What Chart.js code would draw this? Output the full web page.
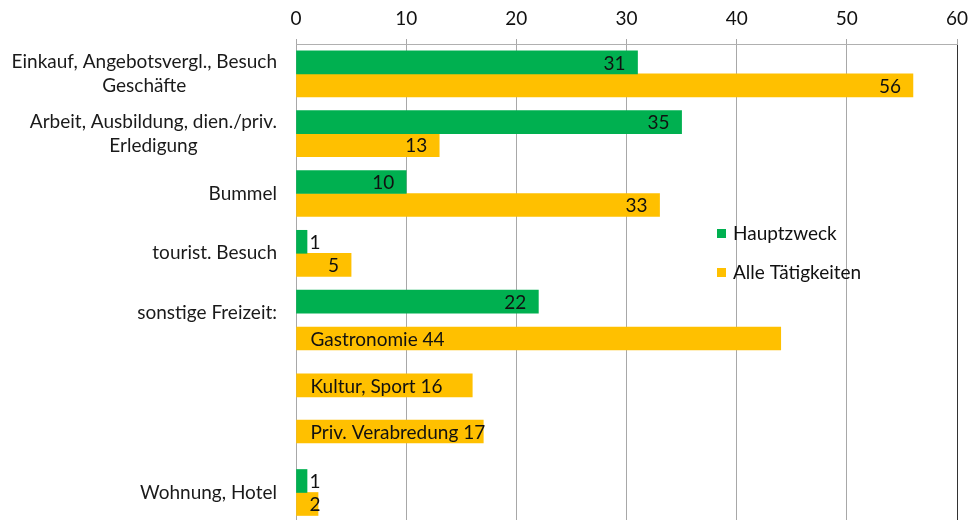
<!DOCTYPE html>
<html>
<head>
<meta charset="utf-8">
<script src="https://cdn.jsdelivr.net/npm/chart.js@4/dist/chart.umd.min.js"></script>
<style>
  html, body { margin: 0; padding: 0; background: #ffffff; }
  #c { display: block; }
</style>
</head>
<body>
<canvas id="c" width="968" height="520"></canvas>
<script>
// ---------- DATA ----------
const categories = [
  ["Einkauf, Angebotsvergl., Besuch", "Geschäfte"],
  ["Arbeit, Ausbildung, dien./priv.", "Erledigung"],
  ["Bummel"],
  ["tourist. Besuch"],
  ["sonstige Freizeit:"],
  [],
  [],
  ["Wohnung, Hotel"]
];
const seriesNames = ["Hauptzweck", "Alle Tätigkeiten"];
const hauptzweck       = [31, 35, 10, 1, 22, null, null, 1];
const alleTaetigkeiten = [56, 13, 33, 5, null, null, null, 2];
const freizeitLabels = ["Gastronomie", "Kultur, Sport", "Priv. Verabredung"];
const freizeitValues = [44, 16, 17];
const xTicks = [0, 10, 20, 30, 40, 50, 60];

// ---------- LAYOUT / STYLE ----------
const GREEN = '#00B050';
const ORANGE = '#FFC000';
const FONT = 'Lato';
const FS = 19;
const ROW_MIN = -0.5, ROW_MAX = 7.46;
const FREIZEIT_ROWS = [4.425, 5.21, 5.98];   // sub-rows under "sonstige Freizeit:"

Chart.defaults.font.family = FONT;
Chart.defaults.font.size = FS;
Chart.defaults.color = '#111111';

const toPoints = (vals) => vals
  .map((v, i) => (v == null ? null : { x: v, y: i }))
  .filter(p => p !== null);

// category labels: block right-aligned, lines centred (as in the original)
const yLabelPlugin = {
  id: 'yLabels',
  afterDraw(chart) {
    const ctx = chart.ctx, ys = chart.scales.y;
    ctx.save();
    ctx.font = FS + 'px ' + FONT;
    ctx.fillStyle = '#1a1a1a';
    ctx.textAlign = 'center';
    ctx.textBaseline = 'middle';
    const right = chart.chartArea.left - 19;
    const lh = 24;
    categories.forEach((lines, i) => {
      if (!lines.length) return;
      const w = Math.max(...lines.map(l => ctx.measureText(l).width));
      const cx = right - w / 2;
      const cy = ys.getPixelForValue(i);
      lines.forEach((l, k) => ctx.fillText(l, cx, cy + (k - (lines.length - 1) / 2) * lh));
    });
    ctx.restore();
  }
};

// value labels on the bars
const valueLabelPlugin = {
  id: 'valueLabels',
  afterDatasetsDraw(chart) {
    const ctx = chart.ctx;
    ctx.save();
    ctx.font = FS + 'px ' + FONT;
    ctx.fillStyle = '#111111';
    ctx.textAlign = 'left';
    ctx.textBaseline = 'middle';
    [0, 1].forEach(di => {
      const meta = chart.getDatasetMeta(di);
      meta.data.forEach((el, i) => {
        const t = String(chart.data.datasets[di].data[i].x);
        const w = ctx.measureText(t).width;
        const x = Math.max(el.x - 12 - w, el.base + 13);
        ctx.fillText(t, x, el.y + 1);
      });
    });
    const meta2 = chart.getDatasetMeta(2);
    meta2.data.forEach((el, i) => {
      ctx.fillText(freizeitLabels[i] + ' ' + freizeitValues[i], el.base + 14, el.y + 1);
    });
    ctx.restore();
  }
};

// legend inside the plot area
const innerLegendPlugin = {
  id: 'innerLegend',
  afterDraw(chart) {
    const ctx = chart.ctx, a = chart.chartArea;
    ctx.save();
    ctx.font = FS + 'px ' + FONT;
    ctx.textAlign = 'left';
    ctx.textBaseline = 'middle';
    const x0 = a.left + 421, y0 = a.top + 190, gap = 39;
    [0, 1].forEach(k => {
      const ds = chart.data.datasets[k];
      const cy = y0 + k * gap;
      ctx.fillStyle = ds.backgroundColor;
      ctx.fillRect(x0, cy - 5, 9, 9);
      ctx.fillStyle = '#111111';
      ctx.fillText(ds.label, x0 + 16, cy);
    });
    ctx.restore();
  }
};

new Chart(document.getElementById('c'), {
  type: 'bar',
  data: {
    datasets: [
      { label: seriesNames[0], data: toPoints(hauptzweck), backgroundColor: GREEN,
        barThickness: 23 },
      { label: seriesNames[1], data: toPoints(alleTaetigkeiten), backgroundColor: ORANGE,
        barThickness: 23 },
      { label: 'Freizeit', data: freizeitValues.map((v, i) => ({ x: v, y: FREIZEIT_ROWS[i] })),
        backgroundColor: ORANGE, grouped: false, barThickness: 23, maxBarThickness: 23 }
    ]
  },
  options: {
    indexAxis: 'y',
    responsive: false,
    animation: false,
    devicePixelRatio: 1,
    layout: { padding: { left: 0, right: 11, top: 0, bottom: 0 } },
    plugins: { legend: { display: false }, tooltip: { enabled: false } },
    scales: {
      x: {
        type: 'linear',
        position: 'top',
        min: 0, max: 60,
        afterBuildTicks: s => { s.ticks = xTicks.map(v => ({ value: v })); },
        afterFit: s => { s.height = 44; s.paddingLeft = 0; s.paddingRight = 0; },
        ticks: { padding: 9, color: '#111111', font: { size: FS } },
        grid: {
          color: c => (c.tick && c.tick.value === 60 ? '#333333' : '#A8A8A8'),
          tickColor: '#A8A8A8',
          tickLength: 5,
          lineWidth: 1
        },
        border: { display: true, color: '#B0B0B0' }
      },
      y: {
        type: 'linear',
        reverse: true,
        offset: false,
        min: ROW_MIN, max: ROW_MAX,
        afterFit: s => { s.width = 296; },
        ticks: { display: false },
        grid: { display: false },
        border: { display: false }
      }
    }
  },
  plugins: [yLabelPlugin, valueLabelPlugin, innerLegendPlugin]
});
</script>
</body>
</html>
